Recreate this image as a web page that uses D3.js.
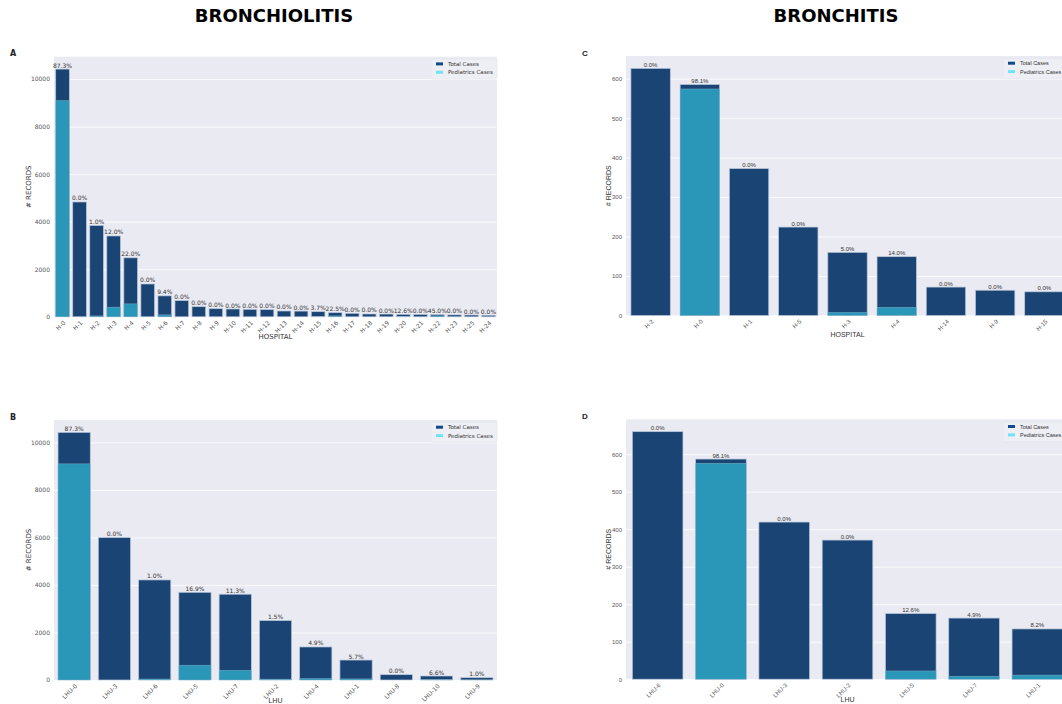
<!DOCTYPE html>
<html>
<head>
<meta charset="utf-8">
<script src="https://cdn.jsdelivr.net/npm/d3@7"></script>
<style>
  html, body { margin: 0; padding: 0; background: #ffffff; overflow: hidden; }
  svg { display: block; }
</style>
</head>
<body>
<svg id="chart" width="1062" height="704"></svg>
<script>
// Bronchiolitis by hospital
const hospBronchiolitis = ["H-0","H-1","H-2","H-3","H-4","H-5","H-6","H-7","H-8","H-9","H-10","H-11","H-12",
  "H-13","H-14","H-15","H-16","H-17","H-18","H-19","H-20","H-21","H-22","H-23","H-25","H-24"];
const hospBronchiolitisTotal = [10420, 4830, 3840, 3400, 2480, 1380, 880, 680, 425, 340, 328, 315, 300,
  244, 240, 215, 173, 146, 118, 115, 105, 100, 95, 80, 75, 65];
const hospBronchiolitisPct = [87.3, 0.0, 1.0, 12.0, 22.0, 0.0, 9.4, 0.0, 0.0, 0.0, 0.0, 0.0, 0.0,
  0.0, 0.0, 3.7, 22.5, 0.0, 0.0, 0.0, 12.6, 0.0, 45.0, 0.0, 0.0, 0.0];

// Bronchiolitis by LHU
const lhuBronchiolitis = ["LHU-0","LHU-3","LHU-6","LHU-5","LHU-7","LHU-2","LHU-4","LHU-1","LHU-8","LHU-10","LHU-9"];
const lhuBronchiolitisTotal = [10420, 5990, 4210, 3690, 3610, 2500, 1390, 840, 223, 168, 97];
const lhuBronchiolitisPct = [87.3, 0.0, 1.0, 16.9, 11.3, 1.5, 4.9, 5.7, 0.0, 6.6, 1.0];

// Bronchitis by hospital
const hospBronchitis = ["H-2","H-0","H-1","H-5","H-3","H-4","H-14","H-9","H-15"];
const hospBronchitisTotal = [626, 585, 372, 224, 160, 149, 72, 64, 60];
const hospBronchitisPct = [0.0, 98.1, 0.0, 0.0, 5.0, 14.0, 0.0, 0.0, 0.0];

// Bronchitis by LHU
const lhuBronchitis = ["LHU-6","LHU-0","LHU-3","LHU-2","LHU-5","LHU-7","LHU-1"];
const lhuBronchitisTotal = [660, 587, 419, 371, 175, 163, 134];
const lhuBronchitisPct = [0.0, 98.1, 0.0, 0.0, 12.6, 4.9, 8.2];

const yTicksLarge = [0, 2000, 4000, 6000, 8000, 10000];
const yTicksSmall = [0, 100, 200, 300, 400, 500, 600];

const seriesNames = ["Total Cases", "Pediatrics Cases"];
const columnTitles = ["BRONCHIOLITIS", "BRONCHITIS"];

const COLORS = {
  bg: "#eaeaf2",
  total: "#1a4473",
  peds: "#2a97b8",
  edge: "#b7c7dc",
  legendTotal: "#0f4a8c",
  legendPeds: "#6fe4f7",
  text: "#333333",
  tick: "#555555"
};

const svg = d3.select("#chart");

// column titles
svg.append("text").attr("x", 274).attr("y", 22).attr("text-anchor", "middle")
  .attr("font-family", "DejaVu Sans").attr("font-weight", "bold").attr("font-size", 18)
  .attr("fill", "#000").text(columnTitles[0]);
svg.append("text").attr("x", 836).attr("y", 22).attr("text-anchor", "middle")
  .attr("font-family", "DejaVu Sans").attr("font-weight", "bold").attr("font-size", 18)
  .attr("fill", "#000").text(columnTitles[1]);

const panels = [
  { tag: "A", x0: 54, x1: 497, y0: 56.7, y1: 316.8, cats: hospBronchiolitis, totals: hospBronchiolitisTotal,
    pct: hospBronchiolitisPct, xlabel: "HOSPITAL", ticks: yTicksLarge, font: "DejaVu Sans", tagX: 10, tagY: 56,
    ylabOff: 25, xlabOff: 22 },
  { tag: "B", x0: 54, x1: 497, y0: 420, y1: 680, cats: lhuBronchiolitis, totals: lhuBronchiolitisTotal,
    pct: lhuBronchiolitisPct, xlabel: "LHU", ticks: yTicksLarge, font: "DejaVu Sans", tagX: 10, tagY: 420,
    ylabOff: 25, xlabOff: 23 },
  { tag: "C", x0: 626, x1: 1069, y0: 56, y1: 315.5, cats: hospBronchitis, totals: hospBronchitisTotal,
    pct: hospBronchitisPct, xlabel: "HOSPITAL", ticks: yTicksSmall, font: "Liberation Sans", tagX: 582, tagY: 56,
    ylabOff: 17, xlabOff: 21.5 },
  { tag: "D", x0: 626, x1: 1069, y0: 419.3, y1: 679.2, cats: lhuBronchitis, totals: lhuBronchitisTotal,
    pct: lhuBronchitisPct, xlabel: "LHU", ticks: yTicksSmall, font: "Liberation Sans", tagX: 582, tagY: 419,
    ylabOff: 17, xlabOff: 22.5 }
];

panels.forEach(p => {
  const g = svg.append("g");
  const x = d3.scaleBand().domain(p.cats).range([p.x0, p.x1]).paddingInner(0.2).paddingOuter(0.1);
  const y = d3.scaleLinear().domain([0, d3.max(p.totals) * 1.05]).range([p.y1, p.y0]);

  // panel letter
  g.append("text").attr("x", p.tagX).attr("y", p.tagY)
    .attr("font-family", p.font).attr("font-weight", "bold").attr("font-size", 8)
    .attr("fill", "#222").text(p.tag);

  // plot background
  g.append("rect").attr("x", p.x0).attr("y", p.y0)
    .attr("width", p.x1 - p.x0).attr("height", p.y1 - p.y0).attr("fill", COLORS.bg);

  // horizontal grid + y ticks
  const yAxis = d3.axisLeft(y).tickValues(p.ticks).tickSize(-(p.x1 - p.x0)).tickPadding(4).tickFormat(d3.format("d"));
  const ya = g.append("g").attr("transform", `translate(${p.x0},0)`).call(yAxis);
  ya.select(".domain").remove();
  ya.selectAll(".tick line").attr("stroke", "#ffffff").attr("stroke-width", 0.8);
  ya.selectAll(".tick text").attr("font-family", p.font).attr("font-size", 6)
    .attr("fill", COLORS.tick);

  const rows = p.cats.map((c, i) => ({ cat: c, total: p.totals[i], pct: p.pct[i], peds: p.totals[i] * p.pct[i] / 100 }));

  // total bars
  g.selectAll(".tot").data(rows).join("rect")
    .attr("x", d => x(d.cat)).attr("width", x.bandwidth())
    .attr("y", d => y(d.total)).attr("height", d => y(0) - y(d.total))
    .attr("fill", COLORS.total).attr("stroke", COLORS.edge).attr("stroke-width", 0.7);

  // pediatrics bars
  g.selectAll(".ped").data(rows.filter(d => d.peds > 0)).join("rect")
    .attr("x", d => x(d.cat)).attr("width", x.bandwidth())
    .attr("y", d => y(d.peds)).attr("height", d => y(0) - y(d.peds))
    .attr("fill", COLORS.peds).attr("stroke", COLORS.edge).attr("stroke-width", 0.5).attr("stroke-opacity", 0.6);

  // percentage labels
  g.selectAll(".lbl").data(rows).join("text")
    .attr("x", d => x(d.cat) + x.bandwidth() / 2).attr("y", d => y(d.total) - 1.5)
    .attr("text-anchor", "middle").attr("font-family", p.font).attr("font-size", 6)
    .attr("fill", COLORS.text).text(d => d.pct.toFixed(1) + "%");

  // x tick labels, rotated
  g.selectAll(".xt").data(rows).join("text")
    .attr("transform", d => `translate(${x(d.cat) + x.bandwidth() / 2 + 2},${p.y1 + 5}) rotate(-45)`)
    .attr("text-anchor", "end").attr("dy", "0.35em").attr("font-family", p.font).attr("font-size", 6)
    .attr("fill", COLORS.tick).text(d => d.cat);

  // axis titles
  g.append("text").attr("x", (p.x0 + p.x1) / 2).attr("y", p.y1 + p.xlabOff).attr("text-anchor", "middle")
    .attr("font-family", p.font).attr("font-size", 7).attr("fill", COLORS.text).text(p.xlabel);
  g.append("text").attr("transform", `translate(${p.x0 - p.ylabOff},${(p.y0 + p.y1) / 2}) rotate(-90)`)
    .attr("text-anchor", "middle").attr("dy", "0.35em").attr("font-family", p.font).attr("font-size", 7)
    .attr("fill", COLORS.text).text("# RECORDS");

  // legend
  const lx = p.x1 - 66, ly = p.y0 + 2.5;
  const lg = g.append("g").attr("transform", `translate(${lx},${ly})`);
  lg.append("rect").attr("width", 66).attr("height", 20).attr("rx", 1.5)
    .attr("fill", "#eeeef5").attr("stroke", "#e3e3ec").attr("stroke-width", 0.5);
  [COLORS.legendTotal, COLORS.legendPeds].forEach((c, i) => {
    lg.append("rect").attr("x", 5).attr("y", 3.2 + i * 8.4).attr("width", 7).attr("height", 3)
      .attr("fill", c);
    lg.append("text").attr("x", 17).attr("y", 4.8 + i * 8.4).attr("dy", "0.35em")
      .attr("font-family", p.font).attr("font-size", 5.5).attr("fill", COLORS.text).text(seriesNames[i]);
  });
});
</script>
</body>
</html>
